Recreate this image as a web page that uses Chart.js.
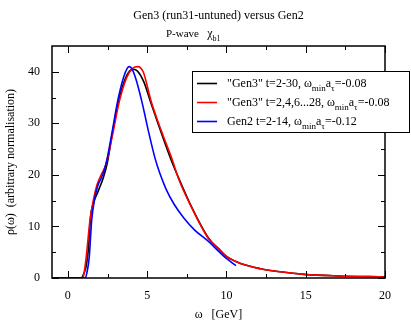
<!DOCTYPE html>
<html>
<head>
<meta charset="utf-8">
<script src="https://cdn.jsdelivr.net/npm/chart.js@4/dist/chart.umd.min.js"></script>
<style>
  html, body { margin: 0; padding: 0; background: #fff; }
  canvas { display: block; }
</style>
</head>
<body>
<canvas id="c" width="411" height="322"></canvas>
<script>
// "Gen3" t=2-30
const gen3AllX = [-1, 0.85, 1.0, 1.15, 1.29, 1.43, 1.6, 1.92, 2.24, 2.5, 2.8, 3.2, 3.6, 3.9, 4.13, 4.4, 4.8, 5.2, 5.85, 6.5, 7.0, 7.8, 8.9, 9.5, 10, 11, 12.15, 13.4, 14.9, 17, 20];
const gen3AllY = [0, 0, 0.8, 2.2, 5.4, 11.8, 14.4, 16.9, 19.5, 22.5, 28.0, 34.3, 38.5, 40.2, 40.5, 40.1, 38.0, 34.3, 28.5, 23.0, 19.3, 13.8, 7.6, 5.7, 4.2, 2.7, 1.8, 1.2, 0.7, 0.4, 0.2];

// "Gen3" t=2,4,6...28
const gen3EvenX = [-1, 0.95, 1.05, 1.18, 1.39, 1.6, 1.82, 2.13, 2.4, 2.8, 3.25, 3.7, 4.1, 4.4, 4.75, 5.25, 5.9, 6.6, 7.0, 7.8, 8.9, 9.5, 10, 11, 12.15, 13.4, 14.9, 17, 20];
const gen3EvenY = [0, 0, 1.5, 4.7, 11.1, 15.0, 17.9, 20.2, 22.0, 27.5, 34.3, 38.8, 40.7, 41.0, 40.0, 34.3, 28.5, 22.8, 19.1, 13.7, 7.5, 5.7, 4.2, 2.7, 1.8, 1.2, 0.7, 0.4, 0.2];

// Gen2 t=2-14
const gen2X = [-1, 1.1, 1.2, 1.35, 1.5, 1.71, 1.92, 2.1, 2.3, 2.5, 2.8, 3.14, 3.5, 3.75, 3.88, 4.05, 4.3, 4.66, 5.08, 5.5, 5.8, 6.2, 6.7, 7.3, 8.0, 8.9, 9.5, 10, 10.6];
const gen2Y = [0, 0, 1.0, 4.06, 11.1, 15.7, 18.2, 19.3, 21.0, 23.5, 28.5, 34.3, 38.8, 40.7, 41.0, 40.5, 38.5, 34.3, 28.5, 23.2, 20.3, 17.2, 14.3, 11.7, 9.3, 7.0, 5.2, 3.8, 2.4];

// axis ticks
const xTickValues = [0, 5, 10, 15, 20];
const xMinorTicks = [2.5, 7.5, 12.5, 17.5];
const yTickValues = [0, 10, 20, 30, 40];
const yMinorTicks = [5, 15, 25, 35];

const chartTitle = 'Gen3 (run31-untuned) versus Gen2';
// text runs: [text, isSubscript, fontSize]
const chartSubtitle = [['P-wave   ', false, 11], ['χ', false, 12], ['b1', true, 8]];
const xTitle = 'ω   [GeV]';
const yTitle = 'ρ(ω)  (arbitrary normalisation)';

const legendRuns = [
  [['"Gen3" t=2-30, ω', false, 12], ['min', true, 9], ['a', false, 12], ['τ', true, 9], ['=-0.08', false, 12]],
  [['"Gen3" t=2,4,6...28, ω', false, 12], ['min', true, 9], ['a', false, 12], ['τ', true, 9], ['=-0.08', false, 12]],
  [['Gen2 t=2-14, ω', false, 12], ['min', true, 9], ['a', false, 12], ['τ', true, 9], ['=-0.12', false, 12]]
];
const seriesColors = ['#000000', '#ff0000', '#0000ff'];

const SERIF = '"Liberation Serif", "Times New Roman", serif';

function pairs(xs, ys) { return xs.map((x, i) => ({ x, y: ys[i] })); }

function drawRuns(ctx, runs, x, y) {
  let cx = x;
  for (const [t, sub, size] of runs) {
    ctx.font = size + 'px ' + SERIF;
    ctx.fillText(t, cx, sub ? y + 3.5 : y);
    cx += ctx.measureText(t).width;
  }
}

const framePlugin = {
  id: 'frameTicks',
  afterDatasetsDraw(chart) {
    const { ctx, chartArea: a, scales: { x, y } } = chart;
    ctx.save();
    ctx.strokeStyle = '#000';
    ctx.lineWidth = 1;
    ctx.beginPath();
    const xt = (vals, len) => vals.forEach(v => {
      const p = Math.round(x.getPixelForValue(v)) + 0.5;
      ctx.moveTo(p, a.bottom); ctx.lineTo(p, a.bottom - len);
      ctx.moveTo(p, a.top); ctx.lineTo(p, a.top + len);
    });
    const yt = (vals, len) => vals.forEach(v => {
      const p = Math.round(y.getPixelForValue(v)) + 0.5;
      ctx.moveTo(a.left, p); ctx.lineTo(a.left + len, p);
      ctx.moveTo(a.right, p); ctx.lineTo(a.right - len, p);
    });
    xt(xTickValues, 7); xt(xMinorTicks, 4);
    yt(yTickValues, 7); yt(yMinorTicks, 4);
    ctx.stroke();
    ctx.lineWidth = 1.5;
    ctx.strokeRect(a.left, a.top, a.right - a.left, a.bottom - a.top);
    ctx.restore();
  },
  afterDraw(chart) {
    const { ctx, chartArea: a } = chart;
    ctx.save();
    ctx.fillStyle = '#000';
    ctx.textBaseline = 'alphabetic';
    // titles
    ctx.font = '12px ' + SERIF;
    ctx.textAlign = 'center';
    ctx.fillText(chartTitle, (a.left + a.right) / 2, 19);
    ctx.textAlign = 'left';
    drawRuns(ctx, chartSubtitle, 166, 37);
    // legend
    const bx = 192, by = 71, bw = 218, bh = 62;
    ctx.fillStyle = '#fff';
    ctx.fillRect(bx, by, bw, bh);
    ctx.strokeStyle = '#000';
    ctx.lineWidth = 1;
    ctx.strokeRect(bx + 0.5, by + 0.5, bw - 1, bh - 1);
    legendRuns.forEach((runs, i) => {
      const base = 87 + i * 19;
      ctx.strokeStyle = seriesColors[i];
      ctx.lineWidth = 1.6;
      ctx.beginPath();
      ctx.moveTo(197, base - 3.5);
      ctx.lineTo(217, base - 3.5);
      ctx.stroke();
      ctx.fillStyle = '#000';
      drawRuns(ctx, runs, 227, base);
    });
    ctx.restore();
  }
};

const lineStyle = (color, order) => ({
  borderColor: color, backgroundColor: color, borderWidth: 1.6,
  pointRadius: 0, fill: false, cubicInterpolationMode: 'monotone', order
});

new Chart(document.getElementById('c'), {
  type: 'line',
  data: {
    datasets: [
      { label: '"Gen3" t=2-30', data: pairs(gen3AllX, gen3AllY), ...lineStyle(seriesColors[0], 3) },
      { label: '"Gen3" t=2,4,6...28', data: pairs(gen3EvenX, gen3EvenY), ...lineStyle(seriesColors[1], 2) },
      { label: 'Gen2 t=2-14', data: pairs(gen2X, gen2Y), ...lineStyle(seriesColors[2], 1) }
    ]
  },
  options: {
    responsive: false,
    animation: false,
    events: [],
    layout: { padding: { top: 46, right: 26, left: 0, bottom: 0 } },
    plugins: { legend: { display: false }, tooltip: { enabled: false }, title: { display: false } },
    scales: {
      x: {
        type: 'linear', min: -1, max: 20,
        grid: { display: false }, border: { display: false },
        afterBuildTicks: s => { s.ticks = xTickValues.map(v => ({ value: v })); },
        afterFit: s => { s.height = 44; },
        ticks: { color: '#000', padding: 3, maxRotation: 0, font: { family: SERIF, size: 12 } },
        title: { display: true, text: xTitle, color: '#000', padding: { top: 0, bottom: 0 }, font: { family: SERIF, size: 12 } }
      },
      y: {
        type: 'linear', min: 0, max: 45,
        grid: { display: false }, border: { display: false },
        afterBuildTicks: s => { s.ticks = yTickValues.map(v => ({ value: v })); },
        afterFit: s => { s.width = 52; },
        ticks: { color: '#000', padding: 4, font: { family: SERIF, size: 12 } },
        title: { display: true, text: yTitle, color: '#000', padding: { top: 4, bottom: 0 }, font: { family: SERIF, size: 12 } }
      }
    }
  },
  plugins: [framePlugin]
});
</script>
</body>
</html>
